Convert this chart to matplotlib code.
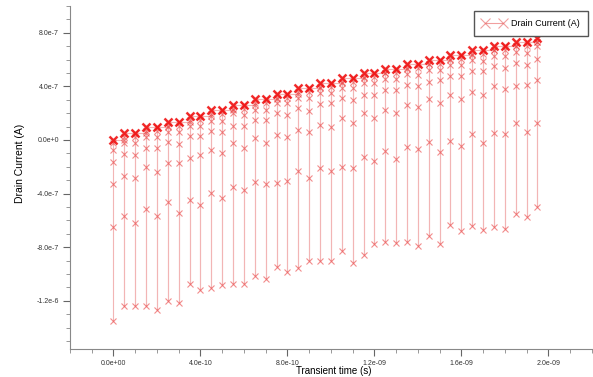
import matplotlib
matplotlib.use("Agg")
import matplotlib.pyplot as plt
from matplotlib.ticker import MultipleLocator, FixedLocator, FixedFormatter
from matplotlib.lines import Line2D

# spike times (units of 1e-10 s)
spike_t = [0.0, 0.5, 1.0, 1.5, 2.0, 2.5, 3.0, 3.5, 4.0, 4.5,
           5.0, 5.5, 6.0, 6.5, 7.0, 7.5, 8.0, 8.5, 9.0, 9.5,
           10.0, 10.5, 11.0, 11.5, 12.0, 12.5, 13.0, 13.5, 14.0, 14.5,
           15.0, 15.5, 16.0, 16.5, 17.0, 17.5, 18.0, 18.5, 19.0, 19.5]

# current levels at each spike (units of 1e-7 A)
top = [0.0, 0.5, 0.5, 0.95, 0.95, 1.37, 1.37, 1.82, 1.82, 2.24,
       2.24, 2.62, 2.62, 3.04, 3.04, 3.44, 3.44, 3.87, 3.87, 4.24,
       4.24, 4.61, 4.61, 4.99, 4.99, 5.31, 5.31, 5.68, 5.68, 5.98,
       5.98, 6.36, 6.36, 6.68, 6.68, 7.03, 7.03, 7.28, 7.28, 7.6]
lvl0 = [-0.25, 0.2, 0.2, 0.65, 0.65, 1.07, 1.07, 1.52, 1.52, 1.94,
        1.94, 2.32, 2.32, 2.74, 2.74, 3.14, 3.14, 3.57, 3.57, 3.94,
        3.94, 4.31, 4.31, 4.69, 4.69, 5.01, 5.01, 5.38, 5.38, 5.68,
        5.68, 6.06, 6.06, 6.38, 6.38, 6.73, 6.73, 6.98, 6.98, 7.3]
lvl1 = [-0.75, -0.25, -0.25, 0.2, 0.2, 0.62, 0.62, 1.05, 1.05, 1.44,
        1.44, 2.0, 1.87, 2.24, 2.24, 2.74, 2.74, 3.12, 3.12, 3.49,
        3.49, 3.87, 3.87, 4.24, 4.24, 4.54, 4.54, 4.91, 4.86, 5.23,
        5.23, 5.61, 5.61, 5.98, 5.86, 6.23, 6.23, 6.53, 6.48, 6.98]
lvl2 = [-1.62, -1.07, -1.12, -0.62, -0.62, -0.17, -0.30, 0.3, 0.3, 0.70,
        0.62, 1.07, 1.05, 1.5, 1.5, 2.0, 1.87, 2.37, 2.17, 2.69,
        2.74, 3.12, 2.99, 3.36, 3.36, 3.74, 3.74, 4.11, 4.04, 4.36,
        4.49, 4.79, 4.79, 5.11, 5.11, 5.48, 5.36, 5.73, 5.61, 6.03]
lvl3 = [-3.29, -2.67, -2.82, -2.04, -2.37, -1.70, -1.70, -1.37, -1.12, -0.75,
        -1.0, -0.2, -0.62, 0.12, -0.25, 0.37, 0.25, 0.75, 0.62, 1.12,
        0.99, 1.62, 1.29, 2.0, 1.62, 2.24, 2.04, 2.62, 2.44, 3.04,
        2.74, 3.36, 3.04, 3.54, 3.36, 4.04, 3.79, 4.04, 4.11, 4.49]
lvl4 = [-6.48, -5.66, -6.23, -5.18, -5.66, -4.64, -5.43, -4.49, -4.86, -3.99,
        -4.31, -3.49, -3.74, -3.12, -3.32, -3.19, -3.04, -2.32, -2.87, -2.12,
        -2.32, -2.00, -2.07, -1.25, -1.57, -0.80, -1.44, -0.55, -0.67, -0.13,
        -0.87, -0.07, -0.45, 0.42, -0.20, 0.50, 0.42, 1.29, 0.62, 1.29]
bottom = [-13.53, -12.36, -12.41, -12.36, -12.66, -12.01, -12.16, -10.77, -11.22, -11.07,
          -10.84, -10.77, -10.72, -10.17, -10.37, -9.45, -9.85, -9.52, -9.02, -9.07,
          -9.07, -8.30, -9.15, -8.55, -7.80, -7.65, -7.72, -7.63, -7.90, -7.18,
          -7.78, -6.36, -6.83, -6.41, -6.75, -6.48, -6.68, -5.53, -5.73, -4.98]

xtick_vals = [0.0, 4e-10, 8e-10, 1.2e-9, 1.6e-9, 2.0e-9]
xtick_labels = ["0.0e+00", "4.0e-10", "8.0e-10", "1.2e-09", "1.6e-09", "2.0e-09"]
ytick_vals = [-1.2e-6, -8e-7, -4e-7, 0.0, 4e-7, 8e-7]
ytick_labels = ["-1.2e-6", "-8.0e-7", "-4.0e-7", "0.0e+0", "4.0e-7", "8.0e-7"]

# build the trace: each spike drops to its bottom and climbs back to the top
xs, ys = [], []
for k in range(len(spike_t)):
    t = spike_t[k] * 1e-10
    levels = [bottom[k], lvl4[k], lvl3[k], lvl2[k], lvl1[k], lvl0[k], top[k]]
    if k > 0:
        xs.append(t)
        ys.append(top[k - 1] * 1e-7)
    for v in levels:
        xs.append(t)
        ys.append(v * 1e-7)

fig = plt.figure(figsize=(5.93, 3.77), dpi=100)
ax = fig.add_axes([0.118, 0.0743, 0.880, 0.910])

ax.plot(xs, ys, color="#e04848", alpha=0.4, lw=0.8)
ax.plot(xs, ys, ls="none", color="#e83030", alpha=0.55, marker="x",
        markersize=5, mew=0.8)
# dense cluster of samples at the top of each spike
ax.plot([t * 1e-10 for t in spike_t], [v * 1e-7 for v in top], ls="none",
        color="#f01010", alpha=0.85, marker="x", markersize=6, mew=1.8)

ax.set_xlim(-2e-10, 2.2e-9)
ax.set_ylim(-1.56e-6, 1.0e-6)

ax.xaxis.set_major_locator(FixedLocator(xtick_vals))
ax.xaxis.set_major_formatter(FixedFormatter(xtick_labels))
ax.xaxis.set_minor_locator(MultipleLocator(1e-10))
ax.yaxis.set_major_locator(FixedLocator(ytick_vals))
ax.yaxis.set_major_formatter(FixedFormatter(ytick_labels))
ax.yaxis.set_minor_locator(MultipleLocator(1e-7))

for s in ["top", "right"]:
    ax.spines[s].set_visible(False)
for s in ["left", "bottom"]:
    ax.spines[s].set_color("#888888")
    ax.spines[s].set_linewidth(0.8)

ax.tick_params(which="major", length=5, width=0.8, color="#666666",
               labelsize=5, labelcolor="#333333", pad=3)
ax.tick_params(which="minor", length=3, width=0.6, color="#888888")
for lab in ax.get_xticklabels() + ax.get_yticklabels():
    lab.set_family("Liberation Sans")
    lab.set_fontsize(5)

ax.set_xlabel("Transient time (s)", fontsize=7, family="Liberation Sans")
ax.xaxis.set_label_coords(0.506, -0.05)
ax.set_ylabel("Drain Current (A)", fontsize=7.5, family="Liberation Sans")
ax.yaxis.set_label_coords(-0.086, 0.54)

handle = Line2D([], [], color="#e86060", alpha=0.6, lw=0.8, marker="x",
                markersize=7, mew=0.8)
leg = ax.legend([handle], ["Drain Current (A)"], loc="upper right",
                bbox_to_anchor=(0.993, 0.985),
                prop={"family": "Liberation Sans", "size": 6.5},
                fancybox=False, numpoints=2, handlelength=2.6, borderpad=0.9,
                handletextpad=0.6, borderaxespad=0.0, framealpha=1)
leg.get_frame().set_edgecolor("#555555")
leg.get_frame().set_linewidth(1.0)

fig.savefig("out.png", dpi=100)
